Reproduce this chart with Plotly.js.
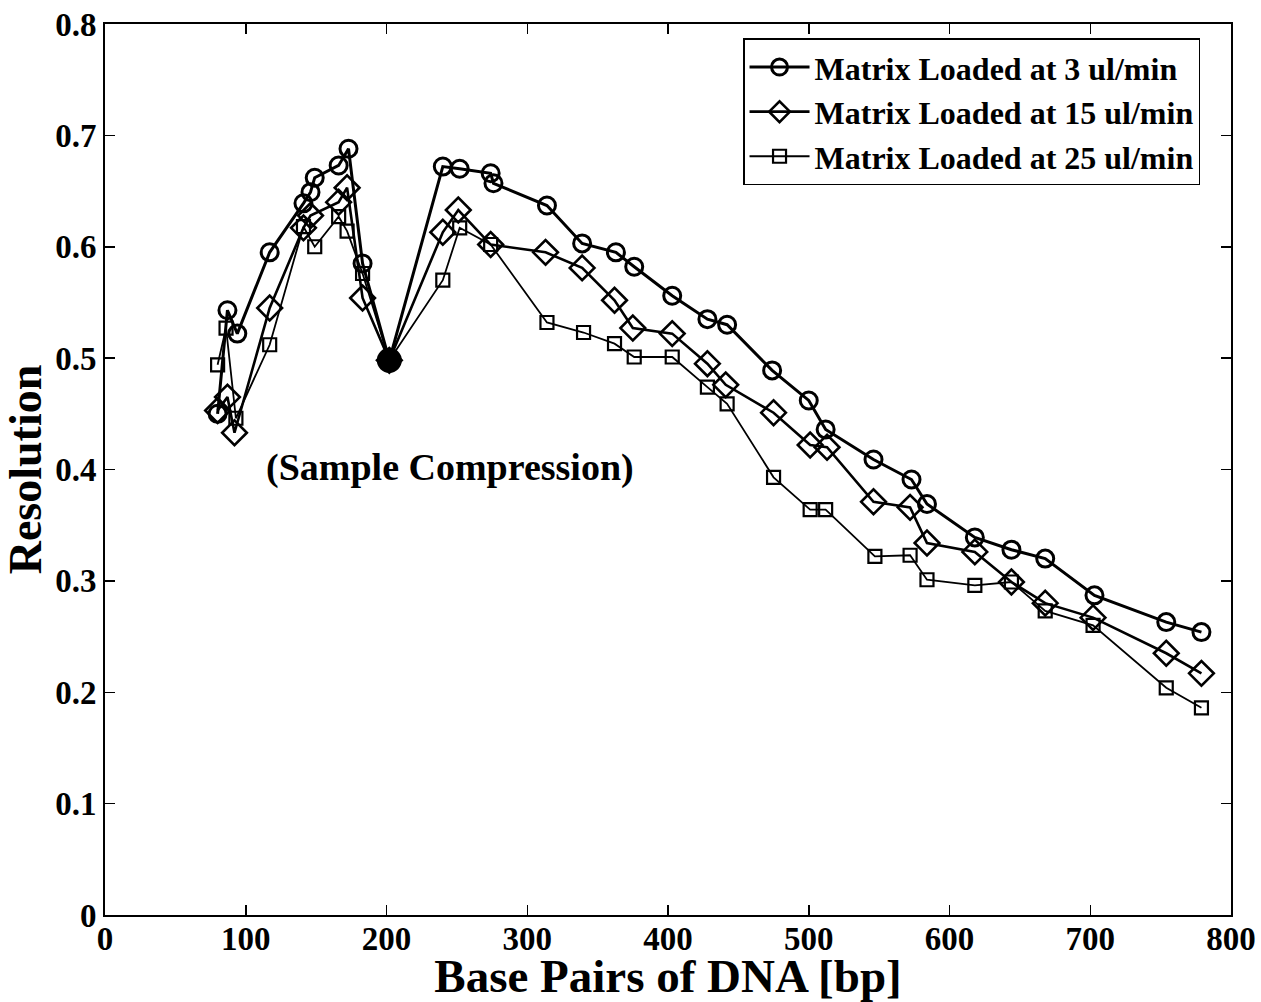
<!DOCTYPE html>
<html>
<head>
<meta charset="utf-8">
<script src="https://cdn.plot.ly/plotly-3.0.1.min.js"></script>
<style>
  html, body { margin: 0; padding: 0; background: #fff; }
  #chart { width: 1261px; height: 1002px; }
</style>
</head>
<body>
<div id="chart"></div>
<script>
// Resolution vs. fragment size for three matrix loading rates
const bp3 = [80, 87, 94, 117, 141, 146, 149, 166, 173, 183, 202, 240, 252, 274, 276, 314, 339, 363, 376, 403, 428, 442, 474, 500, 512, 546, 573, 584, 618, 644, 668, 703, 754, 779];
const res3 = [0.450, 0.543, 0.522, 0.595, 0.639, 0.649, 0.662, 0.673, 0.688, 0.585, 0.498, 0.672, 0.670, 0.666, 0.657, 0.637, 0.603, 0.595, 0.582, 0.556, 0.535, 0.530, 0.489, 0.462, 0.436, 0.409, 0.391, 0.369, 0.339, 0.328, 0.320, 0.287, 0.263, 0.254];

const bp15 = [80, 87, 92, 117, 141, 146, 166, 172, 183, 202, 240, 251, 274, 313, 339, 362, 375, 403, 428, 441, 475, 501, 513, 546, 572, 584, 618, 644, 668, 702, 754, 779];
const res15 = [0.453, 0.465, 0.433, 0.545, 0.617, 0.628, 0.640, 0.653, 0.554, 0.498, 0.613, 0.633, 0.602, 0.595, 0.581, 0.552, 0.527, 0.522, 0.495, 0.476, 0.451, 0.422, 0.420, 0.371, 0.366, 0.334, 0.326, 0.299, 0.280, 0.267, 0.235, 0.217];

const bp25 = [80, 86, 93, 117, 141, 149, 166, 172, 183, 202, 240, 252, 274, 314, 340, 362, 376, 403, 428, 442, 475, 501, 512, 547, 572, 584, 618, 644, 668, 702, 754, 779];
const res25 = [0.494, 0.527, 0.446, 0.512, 0.618, 0.600, 0.627, 0.614, 0.576, 0.498, 0.570, 0.617, 0.602, 0.532, 0.523, 0.513, 0.501, 0.501, 0.474, 0.459, 0.393, 0.364, 0.364, 0.322, 0.323, 0.301, 0.296, 0.299, 0.273, 0.260, 0.204, 0.186];

const seriesNames = ['Matrix Loaded at 3 ul/min', 'Matrix Loaded at 15 ul/min', 'Matrix Loaded at 25 ul/min'];
const xTicks = [0, 100, 200, 300, 400, 500, 600, 700, 800];
const yTicks = [0, 0.1, 0.2, 0.3, 0.4, 0.5, 0.6, 0.7, 0.8];

// the point where all three curves meet is drawn as a solid dot
const meetBp = 202;

const serif = '"Liberation Serif", "Times New Roman", serif';

const traces = [
  {
    x: bp15, y: res15, name: seriesNames[1], mode: 'lines+markers', type: 'scatter',
    line: { color: '#000', width: 2.6 },
    marker: { symbol: 'diamond-open', size: 19, color: '#000', opacity: 1, line: { width: 2.6, color: '#000' } },
    legendrank: 2
  },
  {
    x: bp25, y: res25, name: seriesNames[2], mode: 'lines+markers', type: 'scatter',
    line: { color: '#000', width: 1.8 },
    marker: { symbol: 'square-open', size: 13, color: '#000', opacity: 1, line: { width: 2.2, color: '#000' } },
    legendrank: 3
  },
  {
    x: bp3, y: res3, name: seriesNames[0], mode: 'lines+markers', type: 'scatter',
    line: { color: '#000', width: 3 },
    marker: {
      symbol: bp3.map(v => v === meetBp ? 'circle' : 'circle-open'),
      size: bp3.map(v => v === meetBp ? 22 : 17),
      color: '#000', opacity: 1, line: { width: 3, color: '#000' }
    },
    legendrank: 1
  }
];

const axisCommon = {
  showgrid: false,
  zeroline: false,
  showline: true,
  linecolor: '#000',
  linewidth: 2,
  mirror: 'ticks',
  ticks: 'inside',
  ticklen: 10,
  tickwidth: 1.5,
  tickcolor: '#000',
  tickfont: { family: serif, size: 33, color: '#000', weight: 'bold' }
};

const layout = {
  width: 1261,
  height: 1002,
  paper_bgcolor: '#fff',
  plot_bgcolor: '#fff',
  margin: { l: 105, r: 30, t: 24, b: 87 },
  font: { family: serif, color: '#000' },
  showlegend: true,
  legend: {
    x: 0.9725, y: 0.984, xanchor: 'right', yanchor: 'top',
    bgcolor: '#fff', bordercolor: '#000', borderwidth: 1.5,
    font: { family: serif, size: 32, color: '#000', weight: 'bold' },
    tracegroupgap: 0, itemwidth: 60, traceorder: 'normal'
  },
  xaxis: Object.assign({}, axisCommon, {
    range: [0, 800],
    tickvals: xTicks,
    ticktext: xTicks.map(String),
    ticklabelstandoff: -7,
    title: { text: 'Base Pairs of DNA [bp]', font: { family: serif, size: 47, color: '#000', weight: 'bold' }, standoff: 4 }
  }),
  yaxis: Object.assign({}, axisCommon, {
    range: [0, 0.8],
    tickvals: yTicks,
    ticktext: yTicks.map(v => v === 0 ? '0' : v.toFixed(1)),
    title: { text: 'Resolution', font: { family: serif, size: 46, color: '#000', weight: 'bold' }, standoff: 8 }
  }),
  annotations: [
    {
      x: 245, y: 0.402, xref: 'x', yref: 'y', showarrow: false,
      text: '(Sample Compression)',
      font: { family: serif, size: 38, color: '#000', weight: 'bold' }
    }
  ]
};

Plotly.newPlot('chart', traces, layout, { displayModeBar: false, staticPlot: true });
</script>
</body>
</html>
